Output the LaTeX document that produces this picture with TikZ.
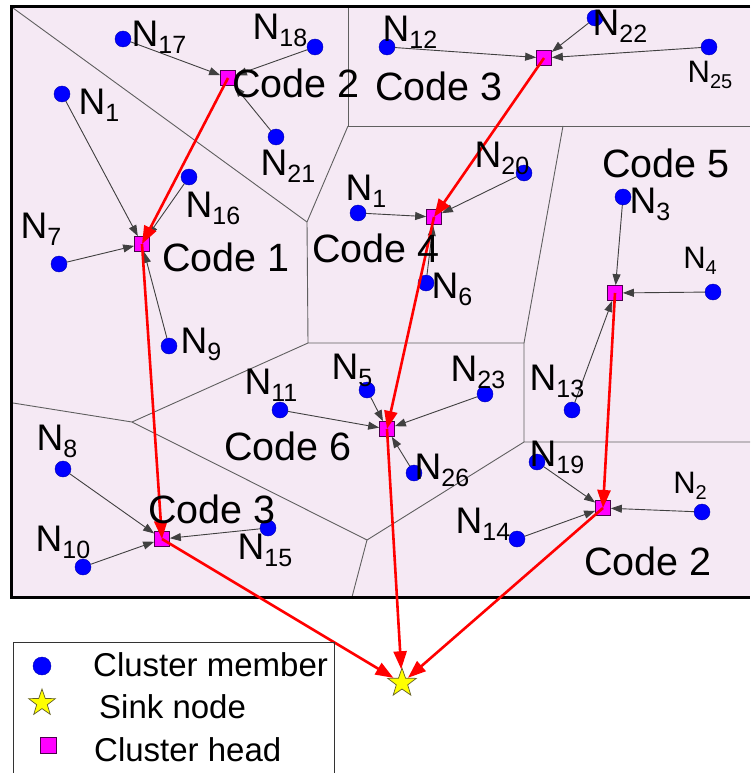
\documentclass[tikz,border=0pt]{standalone}
\usepackage{fontspec}
\setmainfont{Liberation Sans}
\usetikzlibrary{shapes.geometric,arrows.meta}
\definecolor{bgpink}{RGB}{245,233,244}
\definecolor{vor}{RGB}{95,95,95}
\definecolor{memblue}{RGB}{0,0,255}
\definecolor{chmag}{RGB}{255,0,255}
\definecolor{sinky}{RGB}{255,255,0}
\newcommand{\NL}[1]{\fontsize{37}{37}\selectfont N\raisebox{-7pt}{\fontsize{25}{25}\selectfont #1}}
\newcommand{\NS}[1]{\fontsize{31}{31}\selectfont N\raisebox{-6pt}{\fontsize{20}{20}\selectfont #1}}
\tikzset{
  member/.style={circle, fill=memblue, draw=blue!70!black, line width=0.4pt, minimum size=16pt, inner sep=0pt},
  head/.style={rectangle, fill=chmag, draw=violet!60!black, line width=0.7pt, minimum size=15pt, inner sep=0pt},
  sinkstar/.style={star, star points=5, star point ratio=2.5, fill=sinky, draw=olive!60!black, line width=0.7pt, minimum size=30pt, inner sep=0pt},
  lab/.style={inner sep=0pt, anchor=center},
  codelab/.style={inner sep=0pt, anchor=center, font=\fontsize{39.5}{39.5}\selectfont},
  legtext/.style={inner sep=0pt, anchor=west, font=\fontsize{33}{33}\selectfont},
  vorline/.style={draw=vor, line width=0.9pt},
  memarrow/.style={draw=black!75, line width=0.9pt, -{Triangle[length=11pt,width=8pt]}},
  redarrow/.style={draw=red, line width=2.6pt, -{Triangle[length=18pt,width=13pt]}},
}
\begin{document}
\begin{tikzpicture}[x=1pt,y=-1pt]
\useasboundingbox (0,0) rectangle (750,773);
\fill[white] (0,0) rectangle (750,773);
% field
\fill[bgpink] (11,6) rectangle (750,597);
% Voronoi cells
\draw[vorline] (13,8) -- (307,222);
\draw[vorline] (348,8) -- (348,126) -- (750,126);
\draw[vorline] (348,126) -- (307,222) -- (308,343) -- (524,343);
\draw[vorline] (563,126) -- (524,343) -- (524,442) -- (750,442);
\draw[vorline] (308,343) -- (132,422) -- (13,403);
\draw[vorline] (132,422) -- (367,540) -- (352,597);
\draw[vorline] (367,540) -- (524,442);
% frame
\draw[black, line width=3pt] (750,6.5) -- (11.5,6.5) -- (11.5,597) -- (750,597);

% cluster heads
\node[head] (c2a) at (228,78) {};
\node[head] (c1) at (142,244) {};
\node[head] (c3a) at (544,58) {};
\node[head] (c4) at (434,217) {};
\node[head] (c5) at (615,293) {};
\node[head] (c6) at (387,429) {};
\node[head] (c3b) at (162,539) {};
\node[head] (c2b) at (603,508) {};
% sink
\node[sinkstar] (sink) at (402,683) {};

% members
\node[member] (m17) at (123,39) {};
\node[member] (m18) at (315,47) {};
\node[member] (m21) at (276,137) {};
\node[member] (m1a) at (62,94) {};
\node[member] (m16) at (189,177) {};
\node[member] (m7) at (59,264) {};
\node[member] (m9) at (169,346) {};
\node[member] (m12) at (387,47) {};
\node[member] (m22) at (595,18) {};
\node[member] (m25) at (709,47) {};
\node[member] (m1b) at (358,213) {};
\node[member] (m20) at (524,173) {};
\node[member] (m6) at (426,283) {};
\node[member] (m3) at (623,197) {};
\node[member] (m4) at (713,292) {};
\node[member] (m13) at (572,410) {};
\node[member] (m11) at (280,410) {};
\node[member] (m5) at (367,390) {};
\node[member] (m23) at (485,394) {};
\node[member] (m26) at (414,473) {};
\node[member] (m8) at (63,469) {};
\node[member] (m10) at (83,567) {};
\node[member] (m15) at (268,528) {};
\node[member] (m19) at (537,462) {};
\node[member] (m14) at (517,539) {};
\node[member] (m2) at (702,512) {};

% member -> head links
\draw[memarrow] (m17) -- (c2a);
\draw[memarrow] (m18) -- (c2a);
\draw[memarrow] (m21) -- (c2a);
\draw[memarrow] (m1a) -- (c1);
\draw[memarrow] (m16) -- (c1);
\draw[memarrow] (m7) -- (c1);
\draw[memarrow] (m9) -- (c1);
\draw[memarrow] (m12) -- (c3a);
\draw[memarrow] (m22) -- (c3a);
\draw[memarrow] (m25) -- (c3a);
\draw[memarrow] (m1b) -- (c4);
\draw[memarrow] (m20) -- (c4);
\draw[memarrow] (m6) -- (c4);
\draw[memarrow] (m3) -- (c5);
\draw[memarrow] (m4) -- (c5);
\draw[memarrow] (m13) -- (c5);
\draw[memarrow] (m11) -- (c6);
\draw[memarrow] (m5) -- (c6);
\draw[memarrow] (m23) -- (c6);
\draw[memarrow] (m26) -- (c6);
\draw[memarrow] (m8) -- (c3b);
\draw[memarrow] (m10) -- (c3b);
\draw[memarrow] (m15) -- (c3b);
\draw[memarrow] (m19) -- (c2b);
\draw[memarrow] (m14) -- (c2b);
\draw[memarrow] (m2) -- (c2b);

% head -> head / sink routes
\draw[redarrow] (c2a.center) -- (c1.center);
\draw[redarrow] (c3a.center) -- (c4.center);
\draw[redarrow] (c1.center) -- (c3b.center);
\draw[redarrow] (c4.center) -- (c6.center);
\draw[redarrow] (c5.center) -- (c2b.center);
\draw[redarrow] (c3b.center) -- (sink);
\draw[redarrow] (c6.center) -- (sink);
\draw[redarrow] (c2b.center) -- (sink);

% member labels
\node[lab] (l17) at (159,37) {\NL{17}};
\node[lab] (l18) at (280,30) {\NL{18}};
\node[lab] (l1a) at (99,105) {\NL{1}};
\node[lab] (l21) at (288,166) {\NL{21}};
\node[lab] (l16) at (213,208) {\NL{16}};
\node[lab] (l7) at (41,229) {\NL{7}};
\node[lab] (l12) at (410,32) {\NL{12}};
\node[lab] (l22) at (620,26) {\NL{22}};
\node[lab] (l25) at (710,75) {\NS{25}};
\node[lab] (l20) at (502,158) {\NL{20}};
\node[lab] (l3) at (650,204) {\NL{3}};
\node[lab] (l4) at (700,261) {\NS{4}};
\node[lab] (l1b) at (366,191) {\NL{1}};
\node[lab] (l6) at (452,289) {\NL{6}};
\node[lab] (l9) at (201,344) {\NL{9}};
\node[lab] (l11) at (271,385) {\NL{11}};
\node[lab] (l5) at (352,370) {\NL{5}};
\node[lab] (l8) at (57,441) {\NL{8}};
\node[lab] (l15) at (265,550) {\NL{15}};
\node[lab] (l10) at (63,542) {\NL{10}};
\node[lab] (l23) at (478,372) {\NL{23}};
\node[lab] (l26) at (442,470) {\NL{26}};
\node[lab] (l14) at (483,524) {\NL{14}};
\node[lab] (l13) at (557,381) {\NL{13}};
\node[lab] (l19) at (557,457) {\NL{19}};
\node[lab] (l2) at (690,486) {\NS{2}};

% code labels
\node[codelab] (k2a) at (296,83) {Code 2};
\node[codelab] (k3a) at (439,86) {Code 3};
\node[codelab] (k1) at (226,257) {Code 1};
\node[codelab] (k4) at (376,248) {Code 4};
\node[codelab] (k5) at (666,163) {Code 5};
\node[codelab] (k6) at (288,446) {Code 6};
\node[codelab] (k3b) at (212,509) {Code 3};
\node[codelab] (k2b) at (648,561) {Code 2};

% legend
\draw[black!80, line width=1pt] (13,773) -- (13,642) -- (334,642) -- (334,773);
\node[member, minimum size=18pt] (gm) at (42,666) {};
\node[sinkstar, minimum size=28pt] (gs) at (42,703) {};
\node[head, minimum size=16pt] (gh) at (48,745) {};
\node[legtext] (tm) at (93,665) {Cluster member};
\node[legtext] (ts) at (99,707) {Sink node};
\node[legtext] (th) at (94,750) {Cluster head};
\end{tikzpicture}
\end{document}
